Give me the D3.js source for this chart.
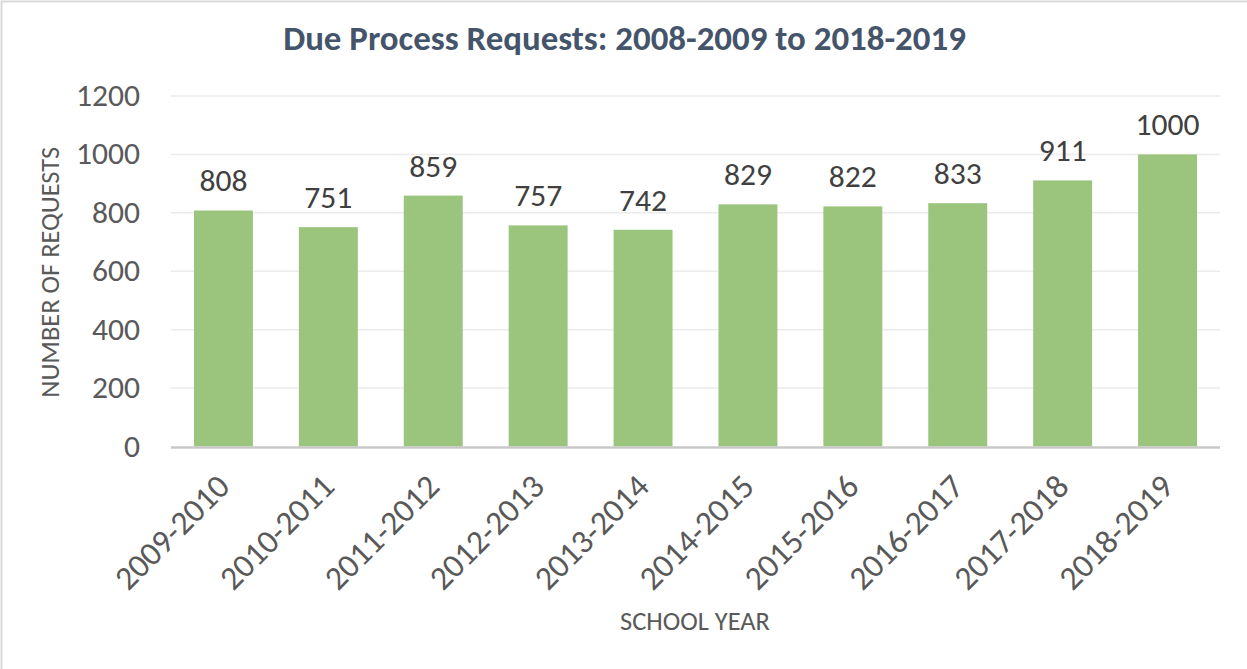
<!DOCTYPE html>
<html>
<head>
<meta charset="utf-8">
<script src="https://cdn.jsdelivr.net/npm/d3@7"></script>
<style>
  html, body { margin: 0; padding: 0; background: #fff; }
  svg { display: block; font-family: Carlito, Calibri, Lato, sans-serif; }
</style>
</head>
<body>
<svg id="chart" width="1247" height="669"></svg>
<script>
// data
const years = ['2009-2010', '2010-2011', '2011-2012', '2012-2013', '2013-2014',
               '2014-2015', '2015-2016', '2016-2017', '2017-2018', '2018-2019'];
const requests = [808, 751, 859, 757, 742, 829, 822, 833, 911, 1000];
const y_ticks = [0, 200, 400, 600, 800, 1000, 1200];

const title = 'Due Process Requests: 2008-2009 to 2018-2019';
const x_title = 'SCHOOL YEAR';
const y_title = 'NUMBER OF REQUESTS';

// layout
const W = 1247, H = 669;
const plot = { left: 171, right: 1220, top: 96, bottom: 446.5 };

const svg = d3.select('#chart');

// shrink / grow a text so it takes a given width
function fit_width(sel, target){
  const len = sel.node().getComputedTextLength();
  const fs = parseFloat(sel.style('font-size'));
  sel.style('font-size', (fs * target / len) + 'px');
  return sel;
}

// outer frame (only left and top edges are visible in the reference)
svg.append('rect')
  .attr('x', 1.5).attr('y', 1.5)
  .attr('width', W + 20).attr('height', H + 20)
  .attr('fill', 'none')
  .attr('stroke', '#d9d9d9')
  .attr('stroke-width', 2);

const x = d3.scaleBand()
  .domain(years)
  .range([plot.left, plot.right])
  .paddingInner(0.438)
  .paddingOuter(0.219);

const y = d3.scaleLinear()
  .domain([0, 1200])
  .range([plot.bottom, plot.top]);

// gridlines
svg.append('g').attr('class', 'grid')
  .selectAll('line')
  .data(y_ticks.filter(d => d > 0))
  .join('line')
  .attr('x1', plot.left).attr('x2', plot.right)
  .attr('y1', d => y(d)).attr('y2', d => y(d))
  .attr('stroke', '#ebebeb')
  .attr('stroke-width', 1.5);

// bars
svg.append('g').attr('class', 'bars')
  .selectAll('rect')
  .data(years.map((yr, i) => ({ yr, v: requests[i] })))
  .join('rect')
  .attr('x', d => x(d.yr))
  .attr('y', d => y(d.v))
  .attr('width', x.bandwidth())
  .attr('height', d => y(0) - y(d.v))
  .attr('fill', '#9bc57d');

// baseline
svg.append('line')
  .attr('x1', plot.left).attr('x2', plot.right)
  .attr('y1', y(0) + 1).attr('y2', y(0) + 1)
  .attr('stroke', '#c8c8c8')
  .attr('stroke-width', 2.5);

// y axis tick labels
const y_lab = svg.append('g').attr('class', 'y-ticks')
  .selectAll('text')
  .data(y_ticks)
  .join('text')
  .attr('x', 140)
  .attr('y', d => y(d) + 10)
  .attr('text-anchor', 'end')
  .attr('fill', '#595959')
  .style('font-size', '28px')
  .text(d => d);
const k_tick = 64 / y_lab.filter(d => d === 1200).node().getComputedTextLength();
y_lab.style('font-size', (28 * k_tick) + 'px');
const tick_fs = 28 * k_tick;

// data labels
svg.append('g').attr('class', 'data-labels')
  .selectAll('text')
  .data(years.map((yr, i) => ({ yr, v: requests[i] })))
  .join('text')
  .attr('x', d => x(d.yr) + x.bandwidth() / 2)
  .attr('y', d => y(d.v) - 19)
  .attr('text-anchor', 'middle')
  .attr('fill', '#404040')
  .style('font-size', tick_fs + 'px')
  .text(d => d.v);

// x axis tick labels, rotated
svg.append('g').attr('class', 'x-ticks')
  .selectAll('text')
  .data(years)
  .join('text')
  .attr('transform', d => `translate(${ x(d) + x.bandwidth() / 2 + 8 }, ${ y(0) + 42 }) rotate(-45)`)
  .attr('text-anchor', 'end')
  .attr('fill', '#595959')
  .style('font-size', (tick_fs * 1.06) + 'px')
  .text(d => d);

// title
const t = svg.append('text')
  .attr('x', 624.5).attr('y', 50)
  .attr('text-anchor', 'middle')
  .attr('fill', '#44546a')
  .attr('font-weight', 'bold')
  .style('font-size', '26px')
  .text(title);
fit_width(t, 683);

// axis titles
const xt = svg.append('text')
  .attr('x', 695).attr('y', 630)
  .attr('text-anchor', 'middle')
  .attr('fill', '#595959')
  .style('font-size', '22px')
  .text(x_title);
fit_width(xt, 150);

const yt = svg.append('text')
  .attr('transform', `translate(59, ${ (plot.top + plot.bottom) / 2 + 1 }) rotate(-90)`)
  .attr('text-anchor', 'middle')
  .attr('fill', '#595959')
  .style('font-size', '22px')
  .text(y_title);
fit_width(yt, 251);
</script>
</body>
</html>
